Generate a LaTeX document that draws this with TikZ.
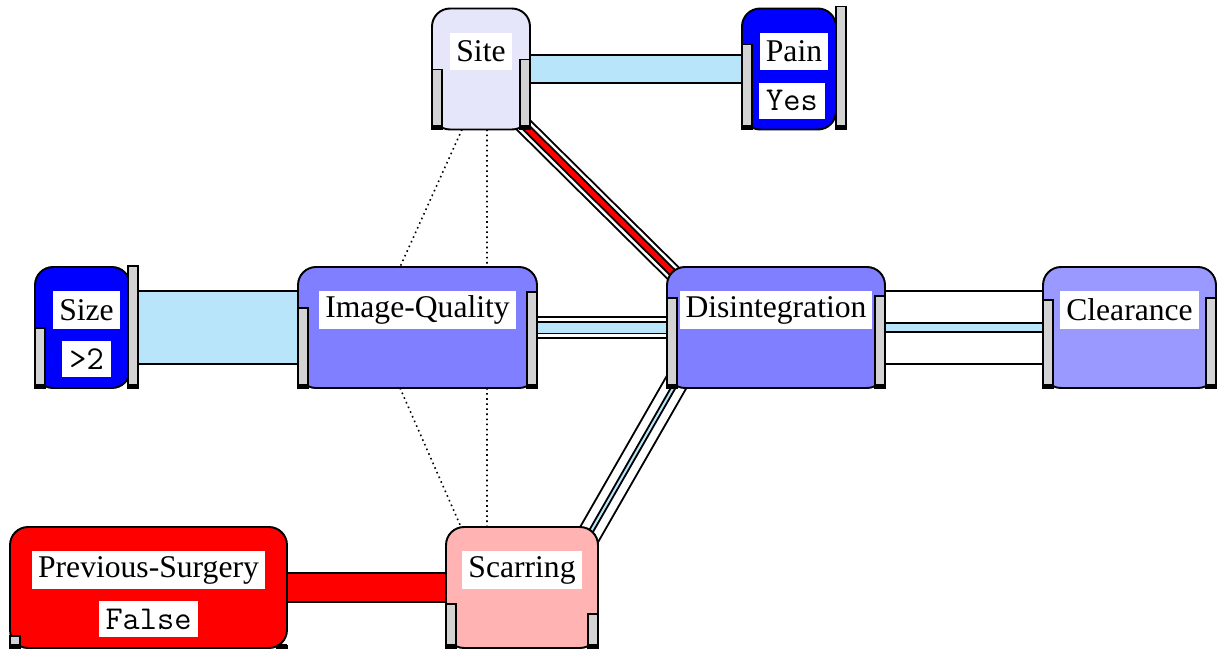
\documentclass[tikz,border=0pt]{standalone}
\usepackage{fontspec}
\setmainfont{Liberation Serif}
\usepackage{xcolor}
\usepackage{tikz}
\usetikzlibrary{calc,positioning}
\definecolor{lavend}{HTML}{E6E6FA}
\definecolor{pureblue}{HTML}{0000FF}
\definecolor{midblue}{HTML}{7F7FFF}
\definecolor{paleblue}{HTML}{9999FF}
\definecolor{purered}{HTML}{FF0000}
\definecolor{scarpink}{HTML}{FFB3B3}
\definecolor{sky}{HTML}{B9E5FB}
\definecolor{bargray}{HTML}{D3D3D3}
\pgfdeclarelayer{back}
\pgfsetlayers{back,main}
\tikzset{
  box/.style={draw=black, line width=1.1pt, rounded corners=0.36cm, inner sep=0pt, outer sep=0pt, minimum height=2.42cm, fill=#1},
  bar/.style={draw=black, fill=bargray, line width=0.9pt},
  band/.style 2 args={draw=black, line width=1.1pt, double=#1, double distance=#2},
  dots/.style={draw=black, dotted, line width=0.9pt},
  lab/.style={fill=white, inner xsep=0.12cm, inner ysep=0pt, minimum height=0.75cm, font=\fontsize{18}{20}\selectfont},
  val/.style={fill=white, inner xsep=0.14cm, inner ysep=0pt, minimum height=0.72cm, font=\ttfamily\fontsize{19}{21}\selectfont},
}
\begin{document}
\begin{tikzpicture}[x=0.02cm, y=-0.02cm]
  \useasboundingbox (0,0) rectangle (1221,649);
  % nodes
  \node[box=lavend, minimum width=1.96cm] (site) at (481,69) {};
  \node[box=pureblue, minimum width=1.88cm] (pain) at (789,69) {};
  \node[box=pureblue, minimum width=1.90cm] (size) at (82.5,327.5) {};
  \node[box=midblue, minimum width=4.78cm] (iq) at (417.5,327.5) {};
  \node[box=midblue, minimum width=4.36cm] (dis) at (776,327.5) {};
  \node[box=paleblue, minimum width=3.46cm] (clear) at (1129.5,327.5) {};
  \node[box=purered, minimum width=5.54cm] (ps) at (148.5,587.5) {};
  \node[box=scarpink, minimum width=3.04cm] (scar) at (522,587.5) {};
  % links, behind the nodes
  \begin{pgfonlayer}{back}
    \draw[band={sky}{0.52cm}] (site.east) -- (pain.west);
    \draw[band={sky}{1.44cm}] (size.east) -- (iq.west);
    \draw[band={white}{0.38cm}] (iq.east) -- (dis.west);
    \draw[band={sky}{0.2cm}] (iq.east) -- (dis.west);
    \draw[band={white}{1.42cm}] (dis.east) -- (clear.west);
    \draw[band={sky}{0.14cm}] (dis.east) -- (clear.west);
    \draw[band={purered}{0.54cm}] (ps.east) -- (scar.west);
    \draw[band={white}{0.28cm}] ($(site.south east)+(-8,-6)$) -- ($(dis.north west)+(7,7)$);
    \draw[band={purered}{0.1cm}] ($(site.south east)+(-8,-6)$) -- ($(dis.north west)+(7,7)$);
    \draw[band={white}{0.42cm}] ($(dis.south west)+(13,-12)$) -- ($(scar.north east)+(-12,13)$);
    \draw[band={sky}{0.04cm}] ($(dis.south west)+(13,-12)$) -- ($(scar.north east)+(-12,13)$);
    \draw[dots] ($(site.south)+(-19,0)$) -- ($(iq.north)+(-17.5,0)$);
    \draw[dots] ($(site.south)+(6,0)$) -- ($(iq.north)+(69.5,0)$);
    \draw[dots] ($(iq.south)+(-17.5,0)$) -- ($(scar.north)+(-61,0)$);
    \draw[dots] ($(iq.south)+(69.5,0)$) -- ($(scar.north)+(-35,0)$);
  \end{pgfonlayer}
  % bars
  \foreach \nd/\lh/\rh/\rx in {site/60/70/0,pain/85/123/10,size/60/122/8,iq/80/96/0,dis/90/92/0,clear/88/90/0,ps/12/2/0,scar/44/34/0}{
    \draw[bar] (\nd.south west) rectangle ++(10,-\lh);
    \fill ($(\nd.south west)+(0,1)$) rectangle ++(10,-5);
    \draw[bar] ($(\nd.south east)+(\rx,0)$) rectangle ++(-10,-\rh);
    \fill ($(\nd.south east)+(\rx,1)$) rectangle ++(-10,-5);
  }
  % names and values
  \foreach \nd/\txt/\dx in {site/Site/0,pain/Pain/5,size/Size/4,iq/Image-Quality/0,dis/Disintegration/0,clear/Clearance/0,ps/Previous-Surgery/0,scar/Scarring/0}
    \node[lab, below=0.48cm of \nd.north, xshift=\dx*0.02cm] (\nd-lab) {\txt};
  \foreach \nd/\txt/\dx in {pain/Yes/3,size/>2/4,ps/False/0}
    \node[val, below=1.48cm of \nd.north, xshift=\dx*0.02cm] (\nd-val) {\txt};
\end{tikzpicture}
\end{document}
